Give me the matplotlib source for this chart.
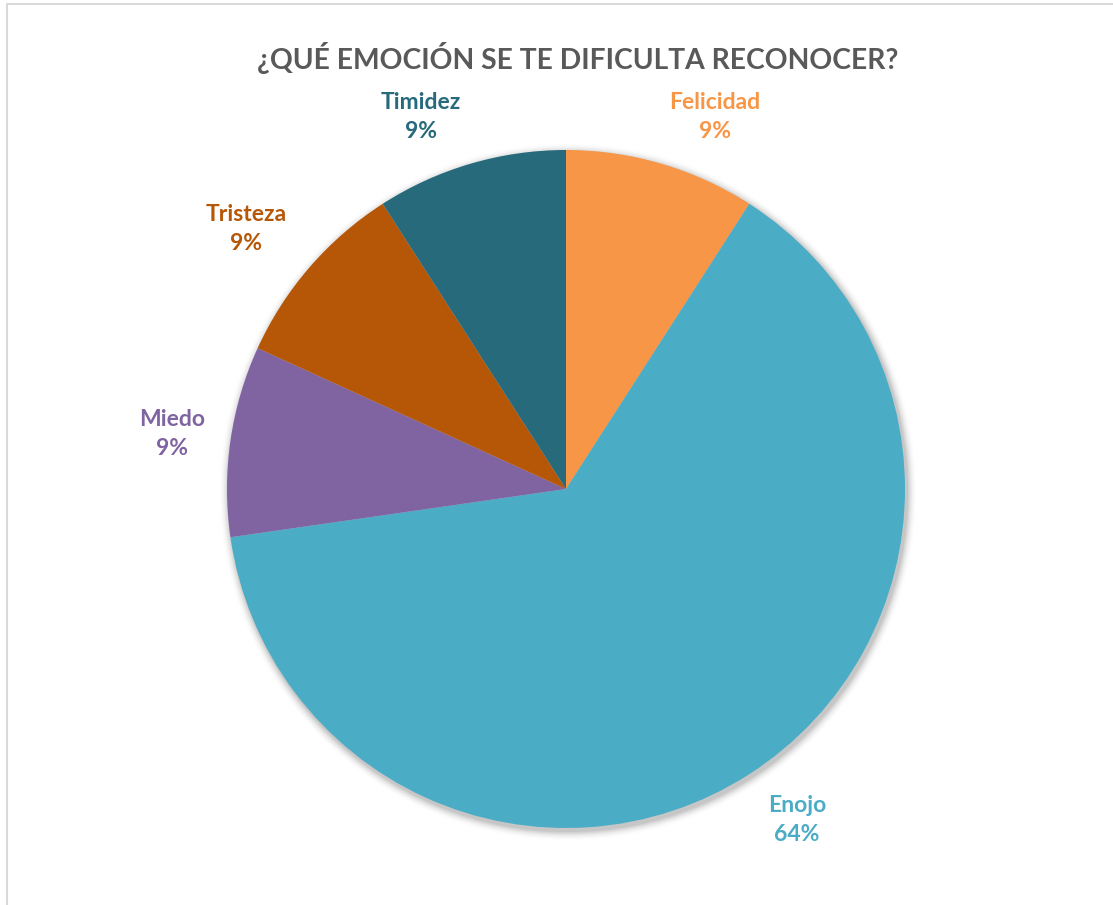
import matplotlib.pyplot as plt
from matplotlib.patches import Circle
import numpy as np

plt.rcParams['font.family'] = ['Lato', 'DejaVu Sans']

# datos de la encuesta
emociones = ['Felicidad', 'Enojo', 'Miedo', 'Tristeza', 'Timidez']
respuestas = [1, 7, 1, 1, 1]
colores = ['#F79646', '#4BACC6', '#8064A2', '#B65708', '#276A7C']
titulo = '¿QUÉ EMOCIÓN SE TE DIFICULTA RECONOCER?'

W, H = 1113, 905
fig = plt.figure(figsize=(W / 100, H / 100), dpi=100)
ax = fig.add_axes([0, 0, 1, 1])

cx, cy, r = 566, H - 489, 339

# sombra suave alrededor del pastel
for i in range(12):
    ax.add_patch(Circle((cx + 2, cy - 3), r + 1 + i * 0.8, color='black',
                        alpha=0.035 * (1 - i / 12), lw=0, zorder=0))

total = sum(respuestas)
etiquetas = [f'{e}\n{round(100 * v / total)}%' for e, v in zip(emociones, respuestas)]
wedges, textos = ax.pie(respuestas, colors=colores, startangle=90, counterclock=False,
                        center=(cx, cy), radius=r, labels=etiquetas, labeldistance=1.185,
                        wedgeprops=dict(linewidth=0), frame=True)
ax.set_xlim(0, W)
ax.set_ylim(0, H)
ax.axis('off')

# posición de cada etiqueta fuera del pastel (en píxeles desde arriba)
pos_etiquetas = [(715, 117), (797, 820), (172, 434), (246, 229), (421, 117)]
for w in wedges:
    w.set_zorder(2)
for t, c, (x, y) in zip(textos, colores, pos_etiquetas):
    t.set_position((x, H - y))
    t.set_ha('center')
    t.set_va('center')
    t.set_color(c)
    t.set_fontsize(16.5)
    t.set_fontweight('bold')
    t.set_linespacing(1.45)

ax.text(578, H - 58, titulo, ha='center', va='center', fontsize=20.3,
        fontweight='bold', color='#595959')

# borde del área del gráfico
ax.plot([7, 7, W], [0, H - 4, H - 4], color='#D9D9D9', lw=1.5)

fig.savefig('out.png', dpi=100, facecolor='white')
